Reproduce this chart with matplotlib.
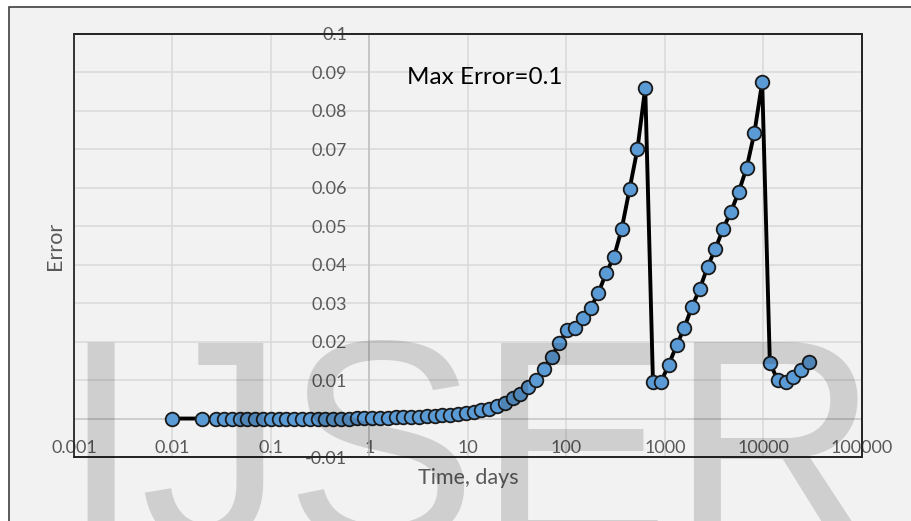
import matplotlib
matplotlib.use("Agg")
import matplotlib.pyplot as plt
from matplotlib.patches import Rectangle
from matplotlib.ticker import FixedLocator, FixedFormatter, NullLocator

# ---------------- data ----------------
time_days = [0.01, 0.02, 0.0278, 0.0334, 0.0400, 0.0480, 0.0576, 0.0692, 0.0830, 0.0996,
             0.1195, 0.143, 0.172, 0.207, 0.248, 0.297, 0.357, 0.428, 0.514, 0.617,
             0.740, 0.888, 1.07, 1.28, 1.54, 1.84, 2.21, 2.65, 3.18, 3.82,
             4.58, 5.50, 6.60, 7.92, 9.50, 11.4, 13.7, 16.4, 19.7, 23.7,
             28.4, 34.1, 40.9, 49.0, 58.8, 70.6, 84.7, 102, 122, 146,
             176, 211, 253, 304, 364, 437, 525, 630, 755, 907,
             1090, 1310, 1570, 1880, 2260, 2710, 3250, 3900, 4680, 5610,
             6740, 8080, 9700, 11600, 14000, 16800, 20100, 24100, 29000]

error = [0, 0, 0, 0, 0, 0, 0, 0, 0, 0,
         0, 0, 0, 0, 0, 0, 0, 0, 0, 0,
         0.0001, 0.0001, 0.0001, 0.0002, 0.0002, 0.0003, 0.0003, 0.0004, 0.0005, 0.0006,
         0.0007, 0.0008, 0.0010, 0.0012, 0.0014, 0.0017, 0.0021, 0.0026, 0.0032, 0.0040,
         0.0053, 0.0063, 0.0082, 0.0101, 0.0130, 0.0161, 0.0197, 0.0231, 0.0236, 0.0262,
         0.0288, 0.0327, 0.0379, 0.0421, 0.0494, 0.0597, 0.0701, 0.0860, 0.0094, 0.0094,
         0.0140, 0.0190, 0.0236, 0.0291, 0.0338, 0.0395, 0.0442, 0.0494, 0.0538, 0.0590,
         0.0652, 0.0743, 0.0875, 0.0145, 0.0099, 0.0094, 0.0109, 0.0125, 0.0148]

x_ticks = [0.001, 0.01, 0.1, 1, 10, 100, 1000, 10000, 100000]
x_tick_labels = ["0.001", "0.01", "0.1", "1", "10", "100", "1000", "10000", "100000"]
y_ticks = [-0.01, 0, 0.01, 0.02, 0.03, 0.04, 0.05, 0.06, 0.07, 0.08, 0.09, 0.1]
y_tick_labels = ["-0.01", "0", "0.01", "0.02", "0.03", "0.04", "0.05", "0.06",
                 "0.07", "0.08", "0.09", "0.1"]

x_label = "Time, days"
y_label = "Error"
note = "Max Error=0.1"
watermark = "IJSER"

# ---------------- figure ----------------
W, H = 912, 521
plt.rcParams['font.family'] = ['Lato', 'DejaVu Sans']
fig = plt.figure(figsize=(W / 100, H / 100), dpi=100, facecolor='white')

# chart area background + frame (only top and left edges visible)
fig.patches.append(Rectangle((9 / W, -0.1), 1.2, (H - 7) / H + 0.1,
                             transform=fig.transFigure, facecolor='#f2f2f2',
                             edgecolor='#404040', linewidth=1.2, zorder=-5))

left, right, top, bottom = 74, 862, 34, 457
ax = fig.add_axes([left / W, 1 - bottom / H, (right - left) / W, (bottom - top) / H])
ax.set_zorder(1)
ax.set_facecolor('#f2f2f2')

ax.set_xscale('log')
ax.set_xlim(0.001, 100000)
ax.set_ylim(-0.01, 0.1)

ax.xaxis.set_major_locator(FixedLocator(x_ticks))
ax.xaxis.set_major_formatter(FixedFormatter(x_tick_labels))
ax.xaxis.set_minor_locator(NullLocator())
ax.yaxis.set_major_locator(FixedLocator(y_ticks))
ax.yaxis.set_major_formatter(FixedFormatter(y_tick_labels))

ax.grid(True, which='major', color='#d9d9d9', linewidth=1.1, zorder=0)
ax.set_axisbelow(True)

# vertical axis crosses at x = 1, horizontal value line at y = 0
ax.spines['left'].set_position(('data', 1))
ax.spines['left'].set_color('#bfbfbf')
ax.spines['left'].set_linewidth(1.1)
ax.spines['left'].set_zorder(0.8)
for s in ['top', 'right', 'bottom']:
    ax.spines[s].set_color('#262626')
    ax.spines[s].set_linewidth(1.3)
ax.add_patch(Rectangle((0, 0), 1, 1, transform=ax.transAxes, fill=False,
                       edgecolor='#262626', linewidth=1.3, zorder=3, clip_on=False))
ax.axhline(0, color='#c8c8c8', linewidth=1.1, zorder=0.9)

ax.tick_params(axis='y', length=0, pad=16, labelsize=13, labelcolor='#595959')
ax.tick_params(axis='x', length=0, pad=-12.5, labelsize=13, labelcolor='#595959')

ax.plot(time_days, error, color='black', linewidth=2.8, marker='o',
        markersize=9.8, markerfacecolor='#5b9bd5', markeredgecolor='#1a1a1a',
        markeredgewidth=1.3, zorder=4, clip_on=False)

ax.set_xlabel(x_label, fontsize=15.5, color='#595959')
ax.xaxis.set_label_coords(0.5, -0.026)
ax.set_ylabel(y_label, fontsize=15.5, color='#595959')
ax.yaxis.set_label_coords(-0.011, 0.5)

ax.text((407 - left) / (right - left), (bottom - 78) / (bottom - top), note,
        transform=ax.transAxes, fontsize=17.5, color='black', ha='left', va='center',
        zorder=5)

# watermark
fig.text(60 / W, 1 - 542 / H, watermark, fontsize=208, family='Liberation Sans',
         color=(0, 0, 0, 0.14), ha='left', va='baseline', zorder=10)

fig.savefig('out.png', dpi=100, facecolor=fig.get_facecolor())
